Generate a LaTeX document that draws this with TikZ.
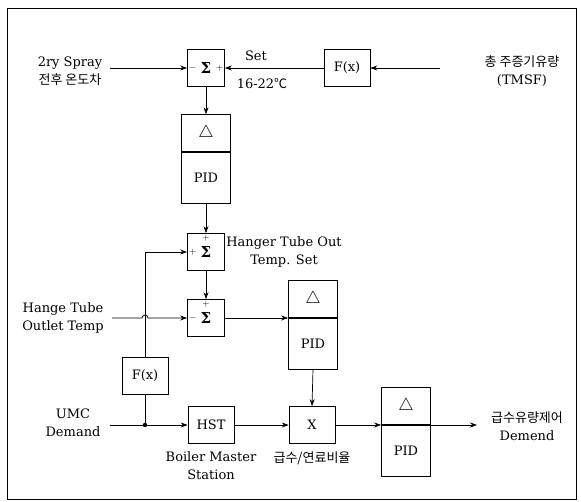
\documentclass[tikz,border=0pt]{standalone}
\usepackage{fontspec}
\setmainfont{DejaVu Serif}
\newfontfamily\kr{Noto Sans CJK KR}
\usetikzlibrary{arrows.meta,positioning}

\begin{document}
\begin{tikzpicture}[x=1pt, y=-1pt, >={Stealth[length=7pt,width=5pt]}, line width=0.7pt,
  every node/.style={font=\fontsize{13}{18}\selectfont},
  box/.style={draw, minimum width=37pt, minimum height=37pt, inner sep=0pt},
  fxbox/.style={draw, minimum width=46pt, minimum height=37pt, inner sep=0pt},
  dbox/.style={draw, minimum width=49pt, minimum height=37pt, inner sep=0pt, anchor=south, font=\fontsize{19}{19}\selectfont},
  pbox/.style={draw, minimum width=49pt, minimum height=51pt, inner sep=0pt, anchor=north},
  sgn/.style={font=\fontsize{9}{9}\selectfont, inner sep=1.5pt},
  sig/.style={font=\fontsize{15}{15}\selectfont\bfseries},
  txt/.style={align=center, inner sep=0pt}]
  \useasboundingbox (0,0) rectangle (581,501);
  \draw[line width=0.8pt] (7,8) rectangle (576,499);

  % summing points
  \node[box, sig] (s1) at (206,68) {Σ};
  \node[sgn, right] at (s1.west) {$-$};
  \node[sgn, left] at (s1.east) {$+$};
  \node[box, sig] (s2) at (206,252) {\raisebox{-3pt}{Σ}};
  \node[sgn, below] at (s2.north) {$+$};
  \node[sgn, right] at (s2.west) {$+$};
  \node[box, sig] (s3) at (206,318) {\raisebox{-3pt}{Σ}};
  \node[sgn, below] at (s3.north) {$+$};
  \node[sgn, right] at (s3.west) {$-$};

  % function blocks
  \node[fxbox] (fx1) at (347,68) {F(x)};
  \node[fxbox] (fx2) at (145,376) {F(x)};
  \node[fxbox] (hst) at (211,425) {HST};
  \node[fxbox] (mul) at (312,425) {X};

  % PID blocks
  \node[dbox] (d1) at (206,152) {$\triangle$};
  \node[pbox] (p1) at (206,152) {PID};
  \node[dbox] (d2) at (313,318) {$\triangle$};
  \node[pbox] (p2) at (313,318) {PID};
  \node[dbox] (d3) at (406,425) {$\triangle$};
  \node[pbox] (p3) at (406,425) {PID};

  % texts
  \node[txt] (t1) at (70,71) {2ry Spray\\{\kr 전후 온도차}};
  \node[txt] (t2) at (256,56) {Set};
  \node[txt] (t3) at (262,84) {16-22{\kr ℃}};
  \node[txt] (t4) at (522,71) {{\kr 총 주증기유량}\\(TMSF)};
  \node[txt] (t5) at (284,252) {Hanger Tube Out\\Temp. Set};
  \node[txt] (t6) at (63,318) {Hange Tube\\Outlet Temp};
  \node[txt] (t7) at (73,423) {UMC\\Demand};
  \node[txt] (t8) at (211,466) {Boiler Master\\Station};
  \node[txt] (t9) at (312,458) {\kr 급수/연료비율};
  \node[txt] (t10) at (527,426) {{\kr 급수유량제어}\\Demend};

  \coordinate (in1) at (110,68);
  \coordinate (in2) at (440,68);
  \coordinate (in3) at (112,318);
  \coordinate (cr) at (145,318);
  \coordinate (in4) at (110,425);
  \coordinate (jn) at (145,425);
  \coordinate (out) at (477,425);

  \draw[->] (in1) -- (s1.west);
  \draw[->] (in2) -- (fx1.east);
  \draw[->] (fx1.west) -- (s1.east);
  \draw[->] (s1.south) -- (d1.north);
  \draw[->] (p1.south) -- (s2.north);
  \draw[->] (s2.south) -- (s3.north);
  \draw[->] (fx2.north) |- (s2.west);
  \draw[->] (in3) -- ([xshift=-3pt]cr) arc[start angle=180, end angle=0, radius=3pt] -- (s3.west);
  \draw[->] (s3.east) -- (d2.south west);
  \draw[->] (p2.south) -- (mul.north);
  \draw (fx2.south) -- (jn);
  \draw[->] (in4) -- (hst.west);
  \fill (jn) circle (2.2pt);
  \draw[->] (hst.east) -- (mul.west);
  \draw[->] (mul.east) -- (d3.south west);
  \draw[->] (d3.south east) -- (out);
\end{tikzpicture}
\end{document}
